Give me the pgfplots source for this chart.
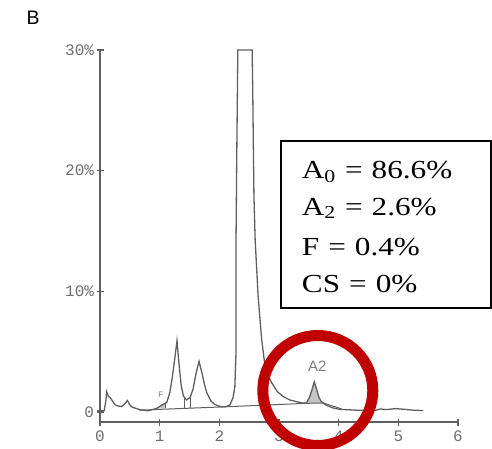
\documentclass[border=0pt]{standalone}
\usepackage{pgfplots}
\pgfplotsset{compat=1.18}
\usepackage{fontspec}
\setmainfont{Liberation Serif}
\newfontfamily\tickfont{Liberation Mono}
\newfontfamily\sansfont{Liberation Sans}
\definecolor{ringred}{RGB}{192,0,0}
\definecolor{trace}{RGB}{95,95,95}
\definecolor{ticktext}{RGB}{110,110,110}
\begin{document}
\begin{tikzpicture}[x=1pt,y=1pt]
\useasboundingbox (0,0) rectangle (492,448);
\node[anchor=base west, font=\sansfont\fontsize{19.5}{19.5}\selectfont] at (23,423) {B};
\begin{axis}[at={(100pt,26pt)}, anchor=south west, scale only axis,
  width=358pt, height=372pt,
  xmin=0, xmax=6, ymin=-0.83, ymax=30,
  axis lines=left, axis line style={trace, line width=1.5pt, -},
  clip=false,
  xtick={0,1,2,3,4,5,6}, xticklabels={0,1,2,3,4,5,6},
  ytick={0,10,20,30}, yticklabels={0,10\%,20\%,30\%},
  tick align=center, major tick length=7pt,
  tick style={trace, line width=1.2pt},
  ticklabel style={font=\tickfont\fontsize{16}{16}\selectfont, text=ticktext},
  xticklabel style={yshift=-2pt},
  yticklabel style={xshift=1pt},
]
% shaded A2 peak
\addplot[fill=gray!45, draw=none] coordinates {
 (3.46,0.72) (3.51,1.2) (3.55,1.8) (3.59,2.5) (3.63,1.9) (3.67,1.2) (3.71,0.86) (3.75,0.74)
} -- cycle;
% shaded F peak
\addplot[fill=gray!45, draw=none] coordinates {
 (0.95,0.3) (1.03,0.55) (1.10,0.75) (1.10,0.3)
} -- cycle;
% integration baseline
\addplot[trace, line width=1pt] coordinates {
 (0.65,0.15) (2.20,0.45) (3.46,0.72) (3.75,0.74) (4.05,0.25)
};
% drop lines
\addplot[trace, line width=1pt] coordinates {(1.41,1.25) (1.41,0.3)};
\addplot[trace, line width=1pt] coordinates {(1.51,1.2) (1.51,0.35)};
\addplot[trace, line width=1pt] coordinates {(1.10,0.78) (1.10,0.3)};
% chromatogram trace
\addplot[trace, line width=1.3pt] coordinates {
 (-0.05,0.1) (0.07,0.1) (0.10,1.0) (0.11,1.7) (0.14,1.3) (0.17,1.2) (0.21,0.9)
 (0.25,0.6) (0.30,0.5) (0.36,0.45) (0.42,0.7) (0.46,0.95) (0.50,0.6) (0.53,0.42)
 (0.60,0.3) (0.67,0.2) (0.80,0.1) (0.88,0.2) (0.95,0.3) (1.03,0.55) (1.12,0.8)
 (1.17,1.6) (1.21,2.8) (1.25,4.3) (1.29,5.9) (1.32,4.2) (1.36,2.2) (1.40,1.3)
 (1.45,1.0) (1.51,1.2) (1.56,1.9) (1.61,3.2) (1.66,4.2) (1.71,3.2) (1.75,2.3)
 (1.79,1.6) (1.86,0.9) (1.93,0.6) (2.04,0.42) (2.12,0.45) (2.18,0.6) (2.23,1.2)
 (2.26,2.1) (2.28,5) (2.28,14.3) (2.29,20.2) (2.31,30) (2.55,30) (2.56,26.6)
 (2.57,22.1) (2.58,17.9) (2.60,14.3) (2.65,9.6) (2.71,6.0) (2.76,4.0) (2.82,3.0)
 (2.88,2.4) (2.97,1.7) (3.07,1.28) (3.18,1.0) (3.29,0.86) (3.40,0.74) (3.46,0.75)
 (3.51,1.2) (3.55,1.8) (3.59,2.5) (3.63,1.9) (3.67,1.2) (3.71,0.86) (3.78,0.6)
 (3.85,0.44) (3.93,0.3) (4.02,0.22) (4.30,0.15) (4.60,0.12) (4.70,0.25) (4.80,0.2)
 (4.95,0.28) (5.10,0.22) (5.25,0.15) (5.42,0.12)
};
\node[font=\sansfont\fontsize{15}{15}\selectfont, text=gray] at (axis cs:3.64,3.75) {A2};
\node[font=\sansfont\fontsize{8}{8}\selectfont, text=gray] at (axis cs:1.02,1.45) {F};
\end{axis}
% legend box
\draw[line width=1.5pt] (281,140) rectangle (491,307);
\begin{scope}[every node/.style={anchor=base west, xscale=1.2, inner sep=0pt, font=\fontsize{26}{26}\selectfont}]
\node at (301.7,269.7) {A\textsubscript{0}\hspace{0.29em}=\hspace{0.29em}86.6\%};
\node at (301.7,233) {A\textsubscript{2}\hspace{0.29em}=\hspace{0.29em}2.6\%};
\node at (301.7,193) {F\hspace{0.29em}=\hspace{0.29em}0.4\%};
\node at (301.7,155.5) {CS\hspace{0.29em}=\hspace{0.29em}0\%};
\end{scope}
% red circle annotation
\draw[ringred, line width=11pt] (317.8,57.5) circle (55);
\end{tikzpicture}
\end{document}
